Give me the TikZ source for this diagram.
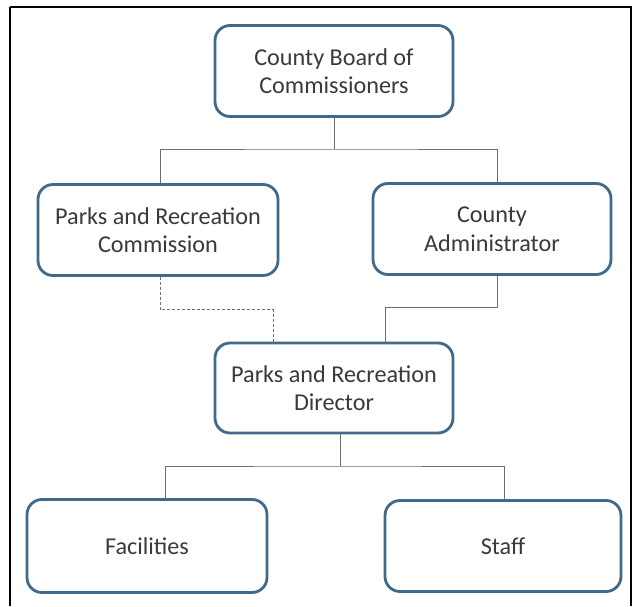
\documentclass[tikz,border=0pt]{standalone}
\usepackage{fontspec}
\setmainfont{Carlito}
\definecolor{boxline}{HTML}{41698A}
\definecolor{txt}{HTML}{3A3A3A}
\definecolor{conn}{HTML}{6E6E6E}
\begin{document}
\begin{tikzpicture}[x=1pt,y=-1pt,
  orgbox/.style={draw=boxline, line width=2.8pt, rounded corners=15pt, fill=white,
    minimum width=238pt, minimum height=91pt, align=center, text=txt,
    font=\fontsize{24.2}{28.5}\selectfont, inner sep=0pt},
  link/.style={draw=conn, line width=1pt},
  dlink/.style={draw=conn, line width=1pt, dash pattern=on 3pt off 2pt}]
\useasboundingbox (0,0) rectangle (633,607);
\fill[white] (0,0) rectangle (633,607);
\draw[black, line width=2pt] (10,7) -- (631,7) -- (631,606);
\draw[black, line width=2pt] (10,7) -- (10,606);

\node[orgbox] (board) at (334,71) {County Board of\\Commissioners};
\node[orgbox, minimum width=240pt] (prc) at (158,230) {Parks and Recreation\\Commission};
\node[orgbox] (ca) at (492,229) {County\\Administrator};
\node[orgbox, minimum height=90pt] (dir) at (334,388) {Parks and Recreation\\Director};
\node[orgbox, minimum width=240pt, minimum height=93pt] (fac) at (147,546) {Facilities};
\node[orgbox, minimum width=236pt] (staff) at (503,546) {Staff};

\coordinate (j1) at (334,150);
\coordinate (j2) at (340,466);

\draw[link] (board.south) -- (j1);
\draw[link] ([xshift=2pt]prc.north) |- (j1) -| ([xshift=5pt]ca.north);
\draw[dlink] ([xshift=2pt]prc.south) |- (273,310) -- ([xshift=-61pt]dir.north);
\draw[link] ([xshift=5pt]ca.south) |- (385,308) -- ([xshift=51pt]dir.north);
\draw[link] ([xshift=6pt]dir.south) -- (j2);
\draw[link] ([xshift=18pt]fac.north) |- (j2) -| ([xshift=1pt]staff.north);
\end{tikzpicture}
\end{document}
